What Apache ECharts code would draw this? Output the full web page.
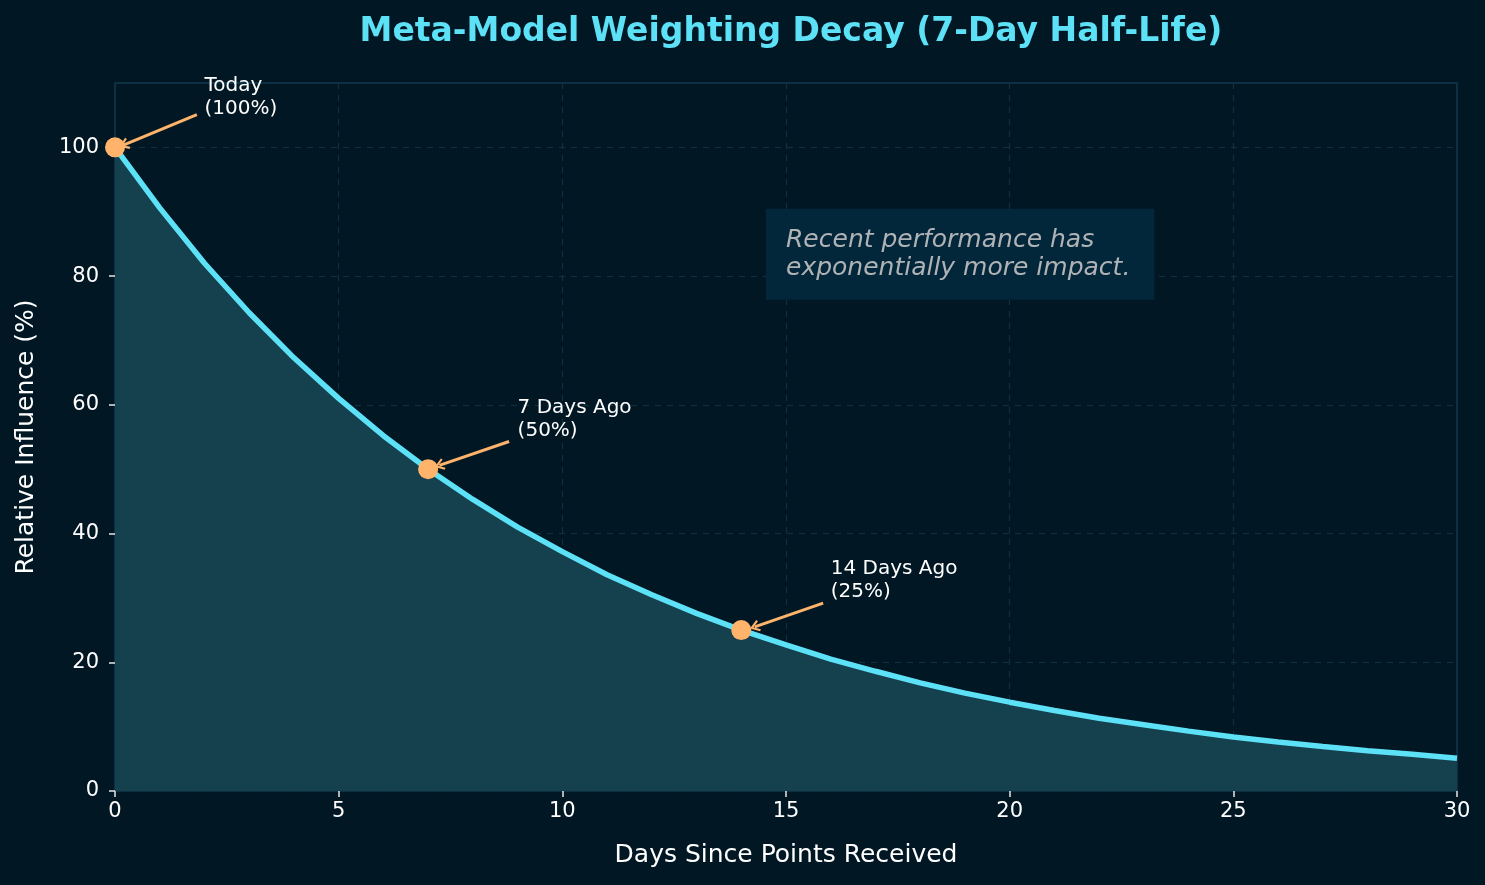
<!DOCTYPE html>
<html>
<head>
<meta charset="utf-8">
<title>Meta-Model Weighting Decay</title>
<script src="https://cdn.jsdelivr.net/npm/echarts@6/dist/echarts.min.js"></script>
<style>
  html, body { margin: 0; padding: 0; background: #011724; }
  #chart { width: 1485px; height: 885px; }
</style>
</head>
<body>
<div id="chart"></div>
<script>
// data
var days = [0, 1, 2, 3, 4, 5, 6, 7, 8, 9, 10, 11, 12, 13, 14, 15,
            16, 17, 18, 19, 20, 21, 22, 23, 24, 25, 26, 27, 28, 29, 30];
var influence = [100, 90.6, 82.0, 74.3, 67.3, 61.0, 55.2, 50.0, 45.3, 41.0, 37.2,
                 33.6, 30.5, 27.6, 25.0, 22.7, 20.5, 18.6, 16.8, 15.2, 13.8,
                 12.5, 11.3, 10.3, 9.3, 8.4, 7.6, 6.9, 6.25, 5.7, 5.1];
var markDays = [0, 7, 14];
var markValues = [100, 50, 25];
var markLabels = ['Today\n(100%)', '7 Days Ago\n(50%)', '14 Days Ago\n(25%)'];
var xTicks = [0, 5, 10, 15, 20, 25, 30];
var yTicks = [0, 20, 40, 60, 80, 100];

// where the annotation texts and arrows sit (data coords)
var textAnchors = [[2, 105], [9, 55], [16, 30]];
var arrowFrom = [[1.83, 105.1], [8.81, 54.3], [15.83, 29.2]];
var arrowTo = [[0.2, 100.4], [7.25, 50.6], [14.3, 25.5]];
var noteAnchor = [15, 83.4];
var noteText = 'Recent performance has\nexponentially more impact.';

var CYAN = '#5ce1f6';
var ORANGE = '#ffb36b';
var FONT = '"DejaVu Sans", sans-serif';
var chevron = 'path://M5,0 L10,8 L8.6,9.2 L5,3.4 L1.4,9.2 L0,8 Z';

var chart = echarts.init(document.getElementById('chart'));

var lineData = days.map(function (d, i) { return [d, influence[i]]; });
var pointData = markDays.map(function (d, i) { return [d, markValues[i]]; });

var arrowLines = arrowFrom.map(function (p, i) {
    return [{ coord: p, symbol: 'none' }, { coord: arrowTo[i], symbol: chevron, symbolSize: [12, 10] }];
});

var option = {
    backgroundColor: '#011724',
    animation: false,
    textStyle: { fontFamily: FONT },
    title: {
        text: 'Meta-Model Weighting Decay (7-Day Half-Life)',
        left: 786,
        textAlign: 'center',
        top: 11,
        textStyle: { color: CYAN, fontSize: 33, fontWeight: 'bold', fontFamily: FONT }
    },
    grid: {
        left: 115, right: 28, top: 83, bottom: 94,
        show: true,
        borderColor: '#0e3a50',
        borderWidth: 1.5,
        backgroundColor: 'transparent'
    },
    xAxis: {
        type: 'value',
        min: 0, max: 30, interval: 5,
        name: 'Days Since Points Received',
        nameLocation: 'middle',
        nameGap: 52,
        nameTextStyle: { color: '#ffffff', fontSize: 25, fontFamily: FONT },
        axisLine: { show: false },
        axisTick: { show: true, length: 6, lineStyle: { color: '#e6e6e6', width: 1.5 } },
        axisLabel: {
            color: '#ffffff', fontSize: 21, margin: 10, fontFamily: FONT,
            formatter: function (v) { return xTicks.indexOf(v) >= 0 ? String(v) : ''; }
        },
        splitLine: { show: true, lineStyle: { color: '#12303c', type: [6, 6], width: 1.2 } }
    },
    yAxis: {
        type: 'value',
        min: 0, max: 110, interval: 20,
        name: 'Relative Influence (%)',
        nameLocation: 'middle',
        nameGap: 76,
        nameTextStyle: { color: '#ffffff', fontSize: 25, fontFamily: FONT },
        axisLine: { show: false },
        axisTick: { show: true, length: 6, lineStyle: { color: '#e6e6e6', width: 1.5 } },
        axisLabel: {
            color: '#ffffff', fontSize: 21, margin: 16, fontFamily: FONT,
            showMaxLabel: false,
            formatter: function (v) { return yTicks.indexOf(v) >= 0 ? String(v) : ''; }
        },
        splitLine: { show: true, lineStyle: { color: '#12303c', type: [6, 6], width: 1.2 } }
    },
    series: [
        {
            name: 'influence',
            type: 'line',
            data: lineData,
            showSymbol: false,
            lineStyle: { color: CYAN, width: 5.5 },
            areaStyle: { color: '#15414f', opacity: 1 },
            z: 2
        },
        {
            name: 'milestones',
            type: 'scatter',
            data: pointData,
            symbolSize: 20,
            itemStyle: { color: ORANGE, opacity: 1 },
            z: 4,
            markLine: {
                silent: true,
                animation: false,
                label: { show: false },
                lineStyle: { color: ORANGE, width: 3, type: 'solid', opacity: 1 },
                emphasis: { disabled: true },
                data: arrowLines
            }
        },
        {
            name: 'labels',
            type: 'scatter',
            data: textAnchors,
            symbolSize: 0,
            silent: true,
            itemStyle: { opacity: 1 },
            z: 5,
            label: {
                show: true,
                position: [0, 0],
                align: 'left',
                verticalAlign: 'bottom',
                offset: [0, 5],
                color: '#ffffff',
                fontSize: 20,
                lineHeight: 23,
                fontFamily: FONT,
                formatter: function (p) { return markLabels[p.dataIndex]; }
            }
        },
        {
            name: 'note',
            type: 'scatter',
            data: [noteAnchor],
            symbolSize: 0,
            silent: true,
            itemStyle: { opacity: 1 },
            z: 3,
            label: {
                show: true,
                position: [0, 0],
                align: 'left',
                verticalAlign: 'middle',
                offset: [-20, 0],
                padding: [17, 24, 18, 20],
                backgroundColor: '#02263a',
                color: '#b0b3b5',
                fontSize: 25,
                lineHeight: 28,
                fontStyle: 'italic',
                fontFamily: FONT,
                formatter: function () { return noteText; }
            }
        }
    ]
};

chart.setOption(option);

window.addEventListener('resize', function () {
    chart.resize();
});
</script>
</body>
</html>
